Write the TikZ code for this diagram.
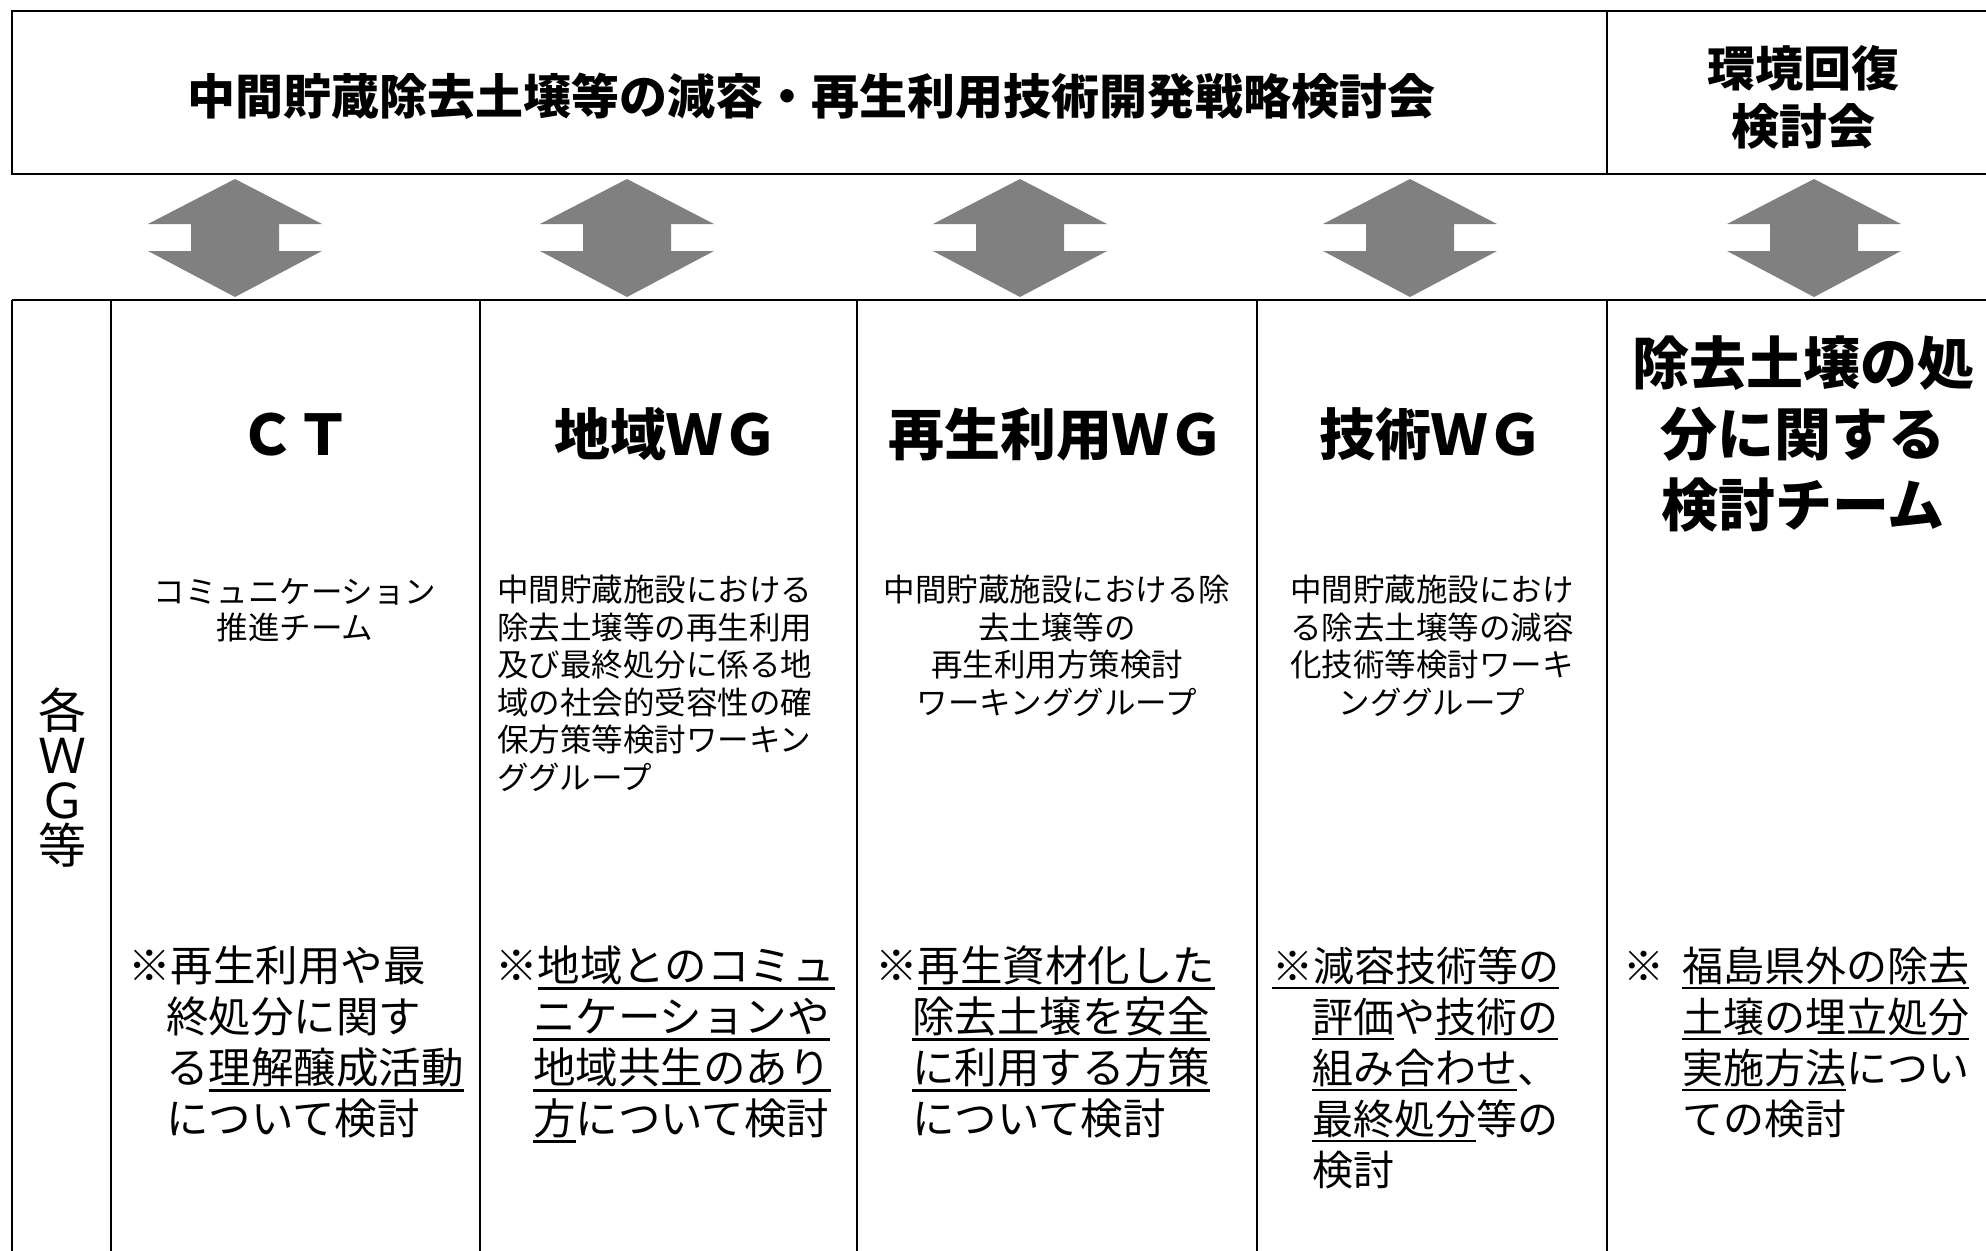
\documentclass[tikz,border=0pt]{standalone}
\usepackage{fontspec}
\setmainfont{Noto Sans CJK JP}
\definecolor{arrowgray}{HTML}{808080}
\newcommand\jul[1]{\setbox0=\hbox{#1}\rlap{\rule[-0.2em]{\wd0}{0.06em}}\box0}
\tikzset{
  ttlfont/.style={font=\fontsize{48}{56}\selectfont\bfseries, anchor=base, inner sep=0pt},
  headfont/.style={font=\fontsize{56}{66}\selectfont\bfseries, anchor=base, inner sep=0pt},
  teamfont/.style={font=\fontsize{57}{66}\selectfont\bfseries, anchor=base, inner sep=0pt},
  subfont/.style={font=\fontsize{31.5}{36}\selectfont, anchor=base, inner sep=0pt},
  subleft/.style={font=\fontsize{31.5}{36}\selectfont, anchor=base west, inner sep=0pt},
  bodyfont/.style={font=\fontsize{42.5}{51}\selectfont, anchor=base west, inner sep=0pt},
  bodysmall/.style={font=\fontsize{41}{51}\selectfont, anchor=base west, inner sep=0pt},
  sidefont/.style={font={\fontsize{48}{45}\selectfont\lineskiplimit=-100pt}, align=center, inner sep=0pt},
  boxline/.style={line width=2.6pt},
  gridline/.style={line width=2pt},
  twoway/.style={fill=arrowgray, draw=none}
}
\begin{document}
\begin{tikzpicture}[x=1pt,y=-1pt]
\useasboundingbox[fill=white] (0,0) rectangle (1986,1250);
% top box
\draw[boxline] (12,11) rectangle (1995,174);
\draw[gridline] (1607,11) -- (1607,174);
\node[ttlfont] (title) at (811,114) {中間貯蔵除去土壌等の減容・再生利用技術開発戦略検討会};
\node[ttlfont] (kankyo1) at (1803,86) {環境回復};
\node[ttlfont] (kankyo2) at (1803,144) {検討会};
% arrows
\foreach \cx in {235,627,1020,1410,1814}{
  \fill[twoway] (\cx,179) -- (\cx+87,224) -- (\cx+44,224) -- (\cx+44,251) -- (\cx+87,251)
    -- (\cx,297) -- (\cx-87,251) -- (\cx-44,251) -- (\cx-44,224) -- (\cx-87,224) -- cycle;
}
% table
\draw[boxline] (12,300) -- (1995,300);
\foreach \xx in {12,111,480,857,1257,1607}{
  \draw[gridline] (\xx,300) -- (\xx,1260);
}
% side label
\node[sidefont, anchor=north] (side) at (62,688) {各\\Ｗ\\Ｇ\\等};
% headings
\node[headfont] (hct) at (295,455) {ＣＴ};
\node[headfont] (hchiiki) at (666,455) {地域ＷＧ};
\node[headfont] (hsaisei) at (1056,455) {再生利用ＷＧ};
\node[headfont] (hgijutsu) at (1431,455) {技術ＷＧ};
\node[teamfont] (hteam1) at (1803,384) {除去土壌の処};
\node[teamfont] (hteam2) at (1803,455) {分に関する};
\node[teamfont] (hteam3) at (1803,526) {検討チーム};
% subtitles
\node[subfont] (sct1) at (295,603) {コミュニケーション};
\node[subfont] (sct2) at (295,639) {推進チーム};
\node[subleft] (sch1) at (497,601.5) {中間貯蔵施設における};
\node[subleft] (sch2) at (497,639) {除去土壌等の再生利用};
\node[subleft] (sch3) at (497,676.5) {及び最終処分に係る地};
\node[subleft] (sch4) at (497,714) {域の社会的受容性の確};
\node[subleft] (sch5) at (497,751.5) {保方策等検討ワーキン};
\node[subleft] (sch6) at (497,789) {ググループ};
\node[subfont] (ssa1) at (1057,601.5) {中間貯蔵施設における除};
\node[subfont] (ssa2) at (1057,639) {去土壌等の};
\node[subfont] (ssa3) at (1057,676.5) {再生利用方策検討};
\node[subfont] (ssa4) at (1057,714) {ワーキンググループ};
\node[subfont] (sgi1) at (1432,601.5) {中間貯蔵施設におけ};
\node[subfont] (sgi2) at (1432,639) {る除去土壌等の減容};
\node[subfont] (sgi3) at (1432,676.5) {化技術等検討ワーキ};
\node[subfont] (sgi4) at (1432,714) {ンググループ};
% bottom texts
\node[bodyfont] (bct1) at (128,981) {※再生利用や最};
\node[bodyfont] (bct2) at (166,1032) {終処分に関す};
\node[bodyfont] (bct3) at (166,1083) {る\jul{理解醸成活動}};
\node[bodyfont] (bct4) at (166,1134) {について検討};
\node[bodyfont] (bch1) at (495,981) {※\jul{地域とのコミュ}};
\node[bodyfont] (bch2) at (533,1032) {\jul{ニケーションや}};
\node[bodyfont] (bch3) at (533,1083) {\jul{地域共生のあり}};
\node[bodyfont] (bch4) at (533,1134) {\jul{方}について検討};
\node[bodyfont] (bsa1) at (875,981) {※\jul{再生資材化した}};
\node[bodyfont] (bsa2) at (912,1032) {\jul{除去土壌を安全}};
\node[bodyfont] (bsa3) at (912,1083) {\jul{に利用する方策}};
\node[bodyfont] (bsa4) at (912,1134) {について検討};
\node[bodysmall] (bgi1) at (1272,981) {\jul{※減容技術等の}};
\node[bodysmall] (bgi2) at (1312,1032) {\jul{評価}や\jul{技術の}};
\node[bodysmall] (bgi3) at (1312,1083) {\jul{組み合わせ}、};
\node[bodysmall] (bgi4) at (1312,1134) {\jul{最終処分}等の};
\node[bodysmall] (bgi5) at (1312,1185) {検討};
\node[bodysmall] (bte0) at (1623,981) {※};
\node[bodysmall] (bte1) at (1682,981) {\jul{福島県外の除去}};
\node[bodysmall] (bte2) at (1682,1032) {\jul{土壌の埋立処分}};
\node[bodysmall] (bte3) at (1682,1083) {\jul{実施方法}につい};
\node[bodysmall] (bte4) at (1682,1134) {ての検討};
\end{tikzpicture}
\end{document}
